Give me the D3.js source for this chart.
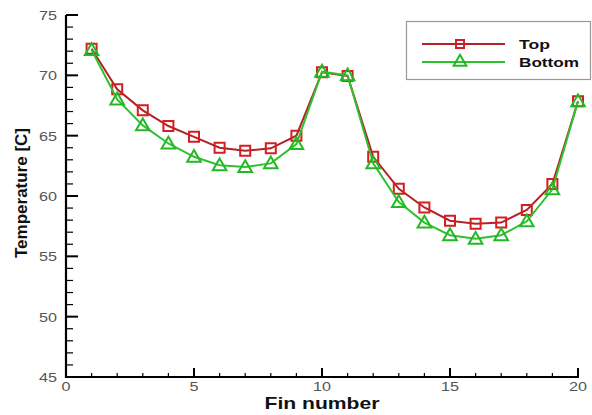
<!DOCTYPE html>
<html><head><meta charset="utf-8">
<script src="https://cdn.jsdelivr.net/npm/d3@7"></script>
<style>body{margin:0;background:#fff}svg{display:block}</style>
</head><body>
<script>
const fins = [1,2,3,4,5,6,7,8,9,10,11,12,13,14,15,16,17,18,19,20];
const topVals = [72.2,68.85,67.1,65.8,64.9,64.0,63.75,63.95,65.0,70.25,69.95,63.25,60.6,59.05,57.95,57.7,57.8,58.85,61.0,67.85];
const bottomVals = [72.1,68.0,65.85,64.35,63.25,62.55,62.4,62.7,64.3,70.3,70.0,62.7,59.5,57.8,56.75,56.45,56.75,57.9,60.55,67.85];
const xTicks = [0,5,10,15,20];
const yTicks = [45,50,55,60,65,70,75];
const seriesNames = ["Top","Bottom"];

const W=592,H=415;
const svg=d3.select("body").append("svg").attr("width",W).attr("height",H);
const x=d3.scaleLinear().domain([0,20]).range([66,578]);
const y=d3.scaleLinear().domain([45,75]).range([377,15]);
const font="'Liberation Sans', Arial, sans-serif";

// axes lines
svg.append("line").attr("x1",66).attr("x2",66).attr("y1",y(75)).attr("y2",y(45)+1).attr("stroke","#000").attr("stroke-width",2.2);
svg.append("line").attr("x1",65).attr("x2",x(20)+1).attr("y1",377).attr("y2",377).attr("stroke","#000").attr("stroke-width",2.2);

// y ticks
for(let v=45; v<=75; v++){
  const major = v%5===0;
  svg.append("line").attr("x1",66).attr("x2",66+(major?12:7)).attr("y1",y(v)).attr("y2",y(v))
    .attr("stroke","#000").attr("stroke-width",major?2:1.2);
}
// x ticks
for(let v=0; v<=20; v++){
  const major = v%5===0;
  svg.append("line").attr("y1",377).attr("y2",377-(major?9:4)).attr("x1",x(v)).attr("x2",x(v))
    .attr("stroke","#000").attr("stroke-width",major?2:1.2);
}
// tick labels
svg.selectAll(".yl").data(yTicks).enter().append("text")
  .attr("x",57).attr("y",d=>y(d)+5).attr("text-anchor","end")
  .attr("font-family",font).attr("font-size",13).attr("fill","#555")
  .attr("textLength",18).attr("lengthAdjust","spacingAndGlyphs").text(d=>d);
svg.selectAll(".xl").data(xTicks).enter().append("text")
  .attr("x",d=>x(d)).attr("y",391).attr("text-anchor","middle")
  .attr("font-family",font).attr("font-size",12).attr("fill","#555")
  .attr("textLength",d=>String(d).length*9).attr("lengthAdjust","spacingAndGlyphs").text(d=>d);

// axis titles
svg.append("text").attr("x",322).attr("y",409).attr("text-anchor","middle")
  .attr("font-family",font).attr("font-size",17).attr("font-weight","bold").attr("fill","#111")
  .attr("textLength",115).attr("lengthAdjust","spacingAndGlyphs").text("Fin number");
svg.append("text").attr("transform","translate(27,193) rotate(-90)").attr("text-anchor","middle")
  .attr("font-family",font).attr("font-size",16).attr("font-weight","bold").attr("fill","#111")
  .attr("textLength",130).attr("lengthAdjust","spacingAndGlyphs").text("Temperature [C]");

const lineColors=["#b3222b","#2ec22e"];
const markColors=["#d41e22","#25b825"];
const data=[topVals,bottomVals];
const line=d3.line().x((d,i)=>x(fins[i])).y(d=>y(d));

const sq=d3.symbol().type(d3.symbolSquare).size(100);
const tri=d3.symbol().type(d3.symbolTriangle).size(80);
const shapes=[sq,tri];

data.forEach((vals,k)=>{
  svg.append("path").attr("d",line(vals)).attr("fill","none").attr("stroke",lineColors[k]).attr("stroke-width",2);
  svg.selectAll(".m"+k).data(vals).enter().append("path")
    .attr("d",shapes[k]())
    .attr("transform",(d,i)=>`translate(${x(fins[i])},${y(d)+(k===1?1:0)})`)
    .attr("fill","none").attr("stroke",markColors[k]).attr("stroke-width",2);
});

// legend
svg.append("rect").attr("x",406.5).attr("y",21.5).attr("width",184).attr("height",58)
  .attr("fill","#fff").attr("stroke","#999").attr("stroke-width",1.2);
const ly=[44,62];
seriesNames.forEach((n,k)=>{
  svg.append("line").attr("x1",422).attr("x2",505).attr("y1",ly[k]).attr("y2",ly[k]).attr("stroke",lineColors[k]).attr("stroke-width",2);
  svg.append("path").attr("d",(k===0?d3.symbol().type(d3.symbolSquare).size(64):d3.symbol().type(d3.symbolTriangle).size(70))())
    .attr("transform",`translate(460,${ly[k]})`).attr("fill","none").attr("stroke",markColors[k]).attr("stroke-width",2);
  svg.append("text").attr("x",519).attr("y",ly[k]+5).attr("font-family",font).attr("font-size",13.5)
    .attr("font-weight","bold").attr("fill","#111")
    .attr("textLength",k===0?31:60).attr("lengthAdjust","spacingAndGlyphs").text(n);
});
</script>
</body></html>
